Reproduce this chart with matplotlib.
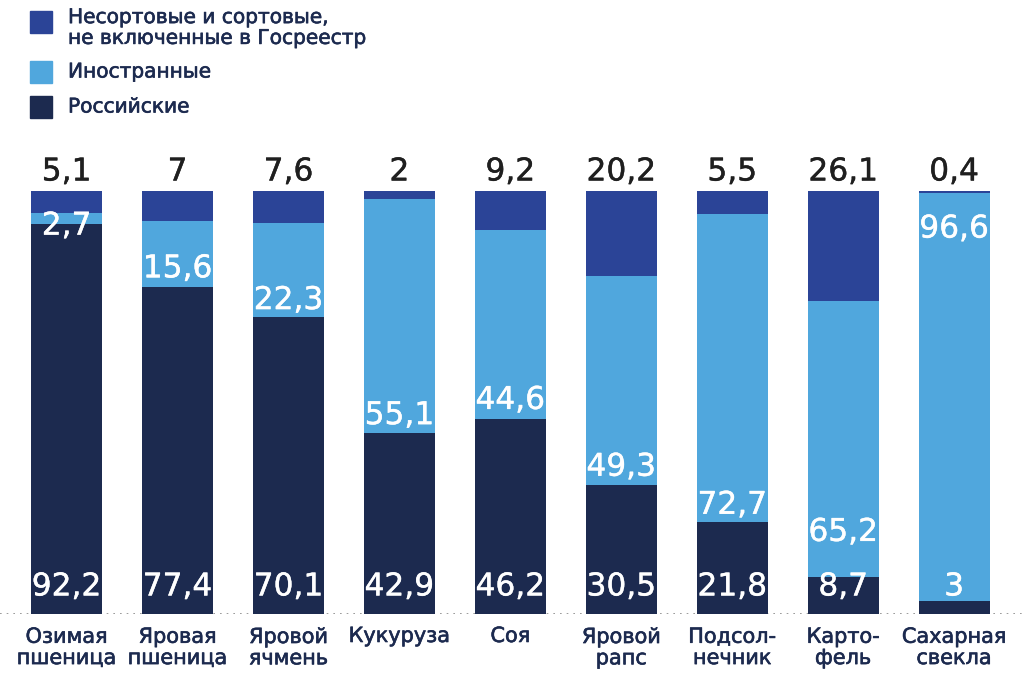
import matplotlib.pyplot as plt
import matplotlib.patheffects as pe
import numpy as np

# данные (%)
crops = ['Озимая\nпшеница', 'Яровая\nпшеница', 'Яровой\nячмень', 'Кукуруза', 'Соя',
         'Яровой\nрапс', 'Подсол-\nнечник', 'Карто-\nфель', 'Сахарная\nсвекла']
russian = [92.2, 77.4, 70.1, 42.9, 46.2, 30.5, 21.8, 8.7, 3]
foreign = [2.7, 15.6, 22.3, 55.1, 44.6, 49.3, 72.7, 65.2, 96.6]
other = [5.1, 7, 7.6, 2, 9.2, 20.2, 5.5, 26.1, 0.4]

# где стоят подписи иностранных сортов (в % высоты столбца)
foreign_label_y = [91.7, 81.6, 74.1, 46.9, 50.5, 34.7, 25.7, 19.3, 91.0]

c_rus = '#1c2a4f'
c_for = '#50a7dd'
c_oth = '#2b4497'
c_txt = '#1c2a4f'

def fmt(v):
    s = ('%.1f' % v).rstrip('0').rstrip('.')
    return s.replace('.', ',')

def thick(col, w=0.4):
    return [pe.withStroke(linewidth=w, foreground=col)]

plt.rcParams['font.family'] = ['DejaVu Sans']
W, H = 1024, 673
fig = plt.figure(figsize=(W / 100, H / 100), dpi=100)
ax = fig.add_axes([0, 59 / H, 1, 423 / H])

x = np.arange(len(crops))
rus = np.array(russian)
fo = np.array(foreign)
ot = np.array(other)
bw = 0.64
ax.bar(x, rus, bw, color=c_rus, zorder=2)
ax.bar(x, fo, bw, bottom=rus, color=c_for, zorder=2)
ax.bar(x, ot, bw, bottom=rus + fo, color=c_oth, zorder=2)

ax.axhline(0, color='#8a8a8a', lw=1.2, ls=(0, (1, 3)), zorder=1)

ax.set_xlim(-0.6, 8.63)
ax.set_ylim(0, 100)
ax.axis('off')

for i in range(len(crops)):
    ax.text(x[i], 6.4, fmt(russian[i]), ha='center', va='center', color='white', fontsize=22.5,
            zorder=3, path_effects=thick('white', 0.3))
    ax.text(x[i], foreign_label_y[i], fmt(foreign[i]), ha='center', va='center', color='white',
            fontsize=22.5, zorder=3, path_effects=thick('white', 0.3))
    ax.text(x[i], 104.5, fmt(other[i]), ha='center', va='center', color='#1f1f1f', fontsize=22.5,
            clip_on=False, path_effects=thick('#1f1f1f', 0.3))
    lab_y = -5.2 if '\n' not in crops[i] else -7.9
    ax.text(x[i], lab_y, crops[i], ha='center', va='center', color=c_txt, fontsize=15,
            linespacing=1.08, clip_on=False, path_effects=thick(c_txt, 0.45))

# легенда
leg = [(c_oth, 'Несортовые и сортовые,\nне включенные в Госреестр', 22),
       (c_for, 'Иностранные', 72),
       (c_rus, 'Российские', 107)]
for col, lab, yc in leg:
    fig.patches.append(plt.Rectangle((30 / W, 1 - (yc + 11) / H), 22 / W, 22 / H,
                                     transform=fig.transFigure, color=col))
    fig.text(68 / W, 1 - (yc + 6) / H if '\n' in lab else 1 - yc / H, lab, ha='left', va='center',
             color=c_txt, fontsize=14.5, linespacing=1.12, path_effects=thick(c_txt, 0.45))

fig.savefig('out.png', dpi=100)
